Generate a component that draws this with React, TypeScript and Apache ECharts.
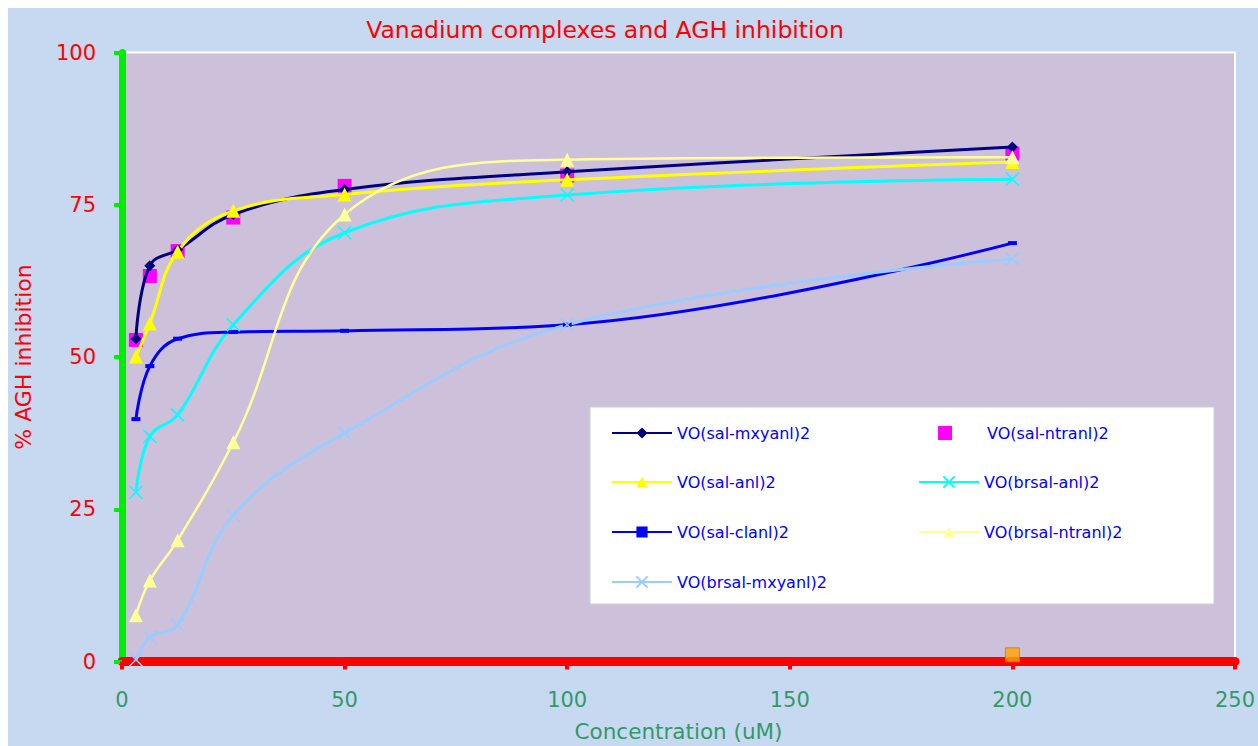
import React, { useEffect, useRef } from 'react';
import * as echarts from 'echarts';

const concentrations = [3.125, 6.25, 12.5, 25, 50, 100, 200];
const salMxyanl = [53, 65, 67.6, 73.4, 77.5, 80.4, 84.5];
const salNtranl = [52.8, 63.3, 67.4, 72.9, 78.1, 79.8, 83.4];
const salAnl = [50.1, 55.5, 67.3, 74.0, 76.7, 79.1, 82.0];
const brsalAnl = [27.8, 37.0, 40.5, 55.3, 70.4, 76.6, 79.2];
const salClanl = [39.8, 48.5, 53.0, 54.1, 54.3, 55.3, 68.7];
const brsalNtranl = [7.6, 13.3, 19.9, 36.0, 73.4, 82.4, 82.8];
const brsalMxyanl = [0.3, 4.0, 6.0, 24.0, 37.5, 55.3, 66.1];
const strayX = [200];
const strayY = [1.1];

const seriesNames = [
  'VO(sal-mxyanl)2',
  'VO(sal-ntranl)2',
  'VO(sal-anl)2',
  'VO(brsal-anl)2',
  'VO(sal-clanl)2',
  'VO(brsal-ntranl)2',
  'VO(brsal-mxyanl)2',
];

const xTicks = { min: 0, max: 250, interval: 50 };
const yTicks = { min: 0, max: 100, interval: 25 };

const FONT = 'DejaVu Sans';
const X_SYMBOL = 'path://M0,0L10,10M10,0L0,10';

export default function App() {
  const ref = useRef<HTMLDivElement>(null);

  useEffect(() => {
    if (!ref.current) return;
    const chart = echarts.init(ref.current, null, { renderer: 'svg' });
    const pair = (vals: number[]) => concentrations.map((c, i) => [c, vals[i]]);

    const legendLayout = [
      { name: seriesNames[0], left: 603, cy: 425, w: 60, pad: 0 },
      { name: seriesNames[2], left: 603, cy: 474, w: 60, pad: 0 },
      { name: seriesNames[4], left: 603, cy: 524, w: 60, pad: 0 },
      { name: seriesNames[6], left: 603, cy: 574, w: 60, pad: 0 },
      { name: seriesNames[1], left: 930, cy: 425, w: 14, pad: 30 },
      { name: seriesNames[3], left: 910, cy: 474, w: 60, pad: 0 },
      { name: seriesNames[5], left: 910, cy: 524, w: 60, pad: 0 },
    ];

    const option: any = {
      animation: false,
      backgroundColor: 'transparent',
      grid: {
        left: 114,
        right: 23,
        top: 44.5,
        bottom: 84.5,
        outerBoundsMode: 'none',
        containLabel: false,
        show: true,
        backgroundColor: '#CCC0DA',
        borderColor: '#FFFFFF',
        borderWidth: 2,
      },
      graphic: [
        {
          type: 'text',
          x: 597,
          y: 22,
          z: 10,
          style: {
            text: 'Vanadium complexes and AGH inhibition',
            fill: '#FF0000',
            font: `23.5px "${FONT}"`,
            textAlign: 'center',
            textVerticalAlign: 'middle',
          },
        },
        {
          type: 'rect',
          z: 3,
          shape: { x: 582, y: 399, width: 624, height: 197 },
          style: { fill: '#FFFFFF', stroke: '#D0D0D0', lineWidth: 1 },
        },
      ],
      legend: legendLayout.map((l) => ({
        data: [l.name],
        left: l.left,
        top: l.cy - 8,
        padding: 0,
        itemWidth: l.w,
        itemHeight: 14,
        itemGap: 6,
        selectedMode: false,
        z: 5,
        textStyle: {
          color: '#0000FF',
          fontSize: 16,
          fontFamily: FONT,
          padding: [0, 0, 0, l.pad],
        },
      })),
      xAxis: {
        type: 'value',
        min: xTicks.min,
        max: xTicks.max,
        interval: xTicks.interval,
        name: 'Concentration (uM)',
        nameLocation: 'middle',
        nameGap: 59,
        nameTextStyle: { color: '#339966', fontSize: 21.5, fontFamily: FONT },
        axisLine: { show: true, onZero: false, lineStyle: { color: '#FF0000', width: 9 } },
        axisTick: { show: true, length: 8, lineStyle: { color: '#FF0000', width: 4 } },
        axisLabel: { color: '#339966', fontSize: 21, fontFamily: FONT, margin: 28 },
        splitLine: { show: false },
      },
      yAxis: {
        type: 'value',
        min: yTicks.min,
        max: yTicks.max,
        interval: yTicks.interval,
        name: '% AGH inhibition',
        nameLocation: 'middle',
        nameGap: 88,
        nameTextStyle: { color: '#FF0000', fontSize: 22, fontFamily: FONT },
        axisLine: { show: true, onZero: false, lineStyle: { color: '#00EE00', width: 7 } },
        axisTick: { show: true, length: 8, lineStyle: { color: '#00EE00', width: 4 } },
        axisLabel: { color: '#FF0000', fontSize: 21, fontFamily: FONT, margin: 26 },
        splitLine: { show: false },
      },
      series: [
        {
          name: seriesNames[0],
          type: 'line',
          data: pair(salMxyanl),
          smooth: 0.4,
          symbol: 'diamond',
          symbolSize: 11,
          lineStyle: { color: '#000080', width: 3 },
          itemStyle: { color: '#000080' },
        },
        {
          name: seriesNames[1],
          type: 'scatter',
          data: pair(salNtranl),
          symbol: 'rect',
          symbolSize: 14,
          itemStyle: { color: '#FF00FF', opacity: 1 },
        },
        {
          name: seriesNames[2],
          type: 'line',
          data: pair(salAnl),
          smooth: 0.4,
          symbol: 'triangle',
          symbolSize: 14,
          lineStyle: { color: '#FFFF00', width: 3 },
          itemStyle: { color: '#FFFF00' },
        },
        {
          name: seriesNames[3],
          type: 'line',
          data: pair(brsalAnl),
          smooth: 0.4,
          symbol: X_SYMBOL,
          symbolSize: 13,
          lineStyle: { color: '#00FFFF', width: 3 },
          itemStyle: { color: '#00FFFF', borderColor: '#00FFFF', borderWidth: 1.5 },
        },
        {
          name: seriesNames[4],
          type: 'line',
          data: pair(salClanl),
          smooth: 0.4,
          symbol: 'rect',
          symbolSize: [9, 4],
          lineStyle: { color: '#0000FF', width: 3 },
          itemStyle: { color: '#0000FF' },
        },
        {
          name: seriesNames[5],
          type: 'line',
          data: pair(brsalNtranl),
          smooth: 0.4,
          symbol: 'triangle',
          symbolSize: 14,
          lineStyle: { color: '#FFFF99', width: 2.5 },
          itemStyle: { color: '#FFFF99' },
        },
        {
          name: seriesNames[6],
          type: 'line',
          data: pair(brsalMxyanl),
          smooth: 0.4,
          symbol: X_SYMBOL,
          symbolSize: 13,
          lineStyle: { color: '#99CCFF', width: 3 },
          itemStyle: { color: '#99CCFF', borderColor: '#99CCFF', borderWidth: 1.5 },
        },
        {
          name: 'stray',
          type: 'scatter',
          data: strayX.map((x, i) => [x, strayY[i]]),
          symbol: 'rect',
          symbolSize: 14,
          z: 6,
          itemStyle: { color: '#FFA500', borderColor: '#E07000', borderWidth: 1 },
        },
      ],
    };

    chart.setOption(option);
    return () => chart.dispose();
  }, []);

  return (
    <div
      ref={ref}
      style={{
        position: 'fixed',
        left: 8,
        top: 8,
        width: 1250,
        height: 738,
        background: '#C6D9F1',
      }}
    />
  );
}
